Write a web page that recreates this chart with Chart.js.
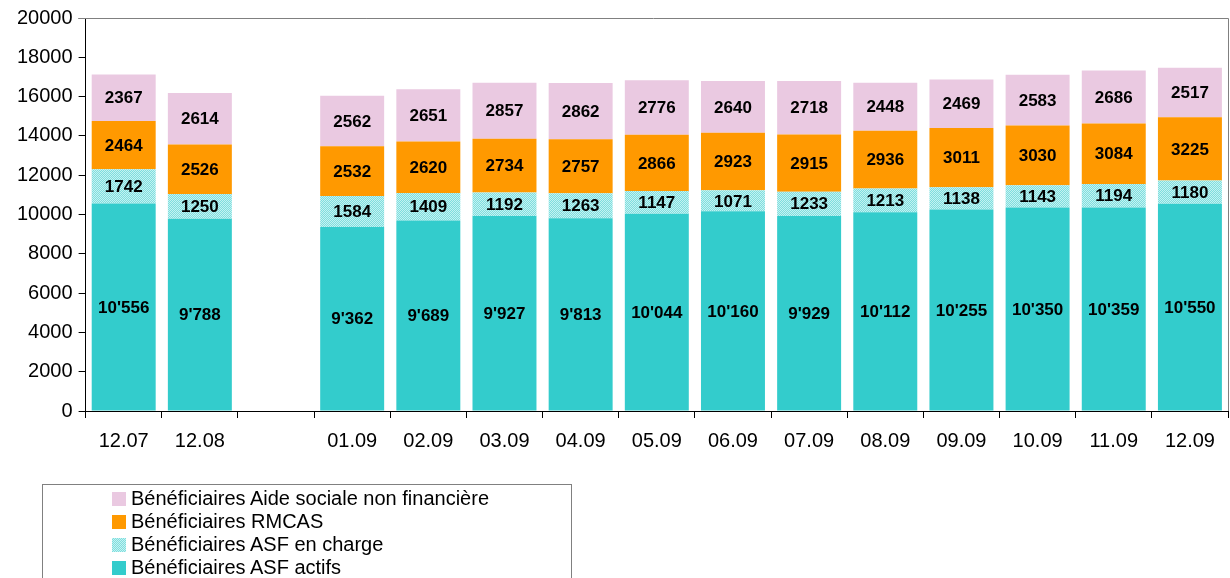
<!DOCTYPE html>
<html>
<head>
<meta charset="utf-8">
<script src="https://cdn.jsdelivr.net/npm/chart.js@4"></script>
<style>
  body { margin: 0; background: #fff; }
  #wrap { position: relative; width: 1230px; height: 578px; }
  #legend {
    position: absolute; left: 42px; top: 484px; width: 530px; height: 110px;
    border: 1px solid #808080; box-sizing: border-box;
    font-family: "Liberation Sans", Arial, sans-serif; font-size: 20px; color: #000;
    padding: 2px 0 0 69px;
  }
  #legend div { height: 23px; line-height: 23px; white-space: nowrap; }
  #legend canvas { display: inline-block; width: 14px; height: 14px; margin-right: 5px; vertical-align: -1px; }
</style>
</head>
<body>
<div id="wrap">
  <canvas id="myChart" width="1230" height="578"></canvas>
  <div id="legend"></div>
</div>
<script>
var labels, asfActifs, asfCharge, rmcas, aideSociale, yTicks, ctx, myChart, pattern, labelPlugin, framePlugin;

labels = ['12.07', '12.08', '', '01.09', '02.09', '03.09', '04.09', '05.09', '06.09', '07.09', '08.09', '09.09', '10.09', '11.09', '12.09'];
asfActifs = [10556, 9788, null, 9362, 9689, 9927, 9813, 10044, 10160, 9929, 10112, 10255, 10350, 10359, 10550];
asfCharge = [1742, 1250, null, 1584, 1409, 1192, 1263, 1147, 1071, 1233, 1213, 1138, 1143, 1194, 1180];
rmcas = [2464, 2526, null, 2532, 2620, 2734, 2757, 2866, 2923, 2915, 2936, 3011, 3030, 3084, 3225];
aideSociale = [2367, 2614, null, 2562, 2651, 2857, 2862, 2776, 2640, 2718, 2448, 2469, 2583, 2686, 2517];
yTicks = { min: 0, max: 20000, step: 2000 };

// checkered fill for "ASF en charge" (low contrast so it stays cyan)
pattern = (function() {
  var c = document.createElement('canvas'), p;
  c.width = 2; c.height = 2;
  p = c.getContext('2d');
  p.fillStyle = '#7fdede'; p.fillRect(0, 0, 2, 2);
  p.fillStyle = '#c4f2f2'; p.fillRect(0, 0, 1, 1); p.fillRect(1, 1, 1, 1);
  return p.createPattern(c, 'repeat');
})();

function fmtQuote(v) {
  return String(v).replace(/\B(?=(\d{3})+(?!\d))/g, "'");
}

labelPlugin = {
  id: 'segLabels',
  afterDatasetsDraw: function(chart) {
    var c = chart.ctx;
    c.save();
    c.font = 'bold 17px "Liberation Sans", Arial, sans-serif';
    c.fillStyle = '#000';
    c.textAlign = 'center';
    c.textBaseline = 'middle';
    chart.data.datasets.forEach(function(ds, i) {
      chart.getDatasetMeta(i).data.forEach(function(bar, j) {
        var v = ds.data[j];
        if (v == null) return;
        var txt = i === 0 ? fmtQuote(v) : String(v);
        c.fillText(txt, bar.x, (bar.y + bar.base) / 2 + 1);
      });
    });
    c.restore();
  }
};

framePlugin = {
  id: 'frame',
  afterDraw: function(chart) {
    var a = chart.chartArea, c = chart.ctx;
    c.save();
    c.strokeStyle = '#808080';
    c.lineWidth = 1;
    c.beginPath();
    c.moveTo(a.left - 7, a.top + 0.5);
    c.lineTo(a.right + 0.5, a.top + 0.5);
    c.lineTo(a.right + 0.5, a.bottom);
    c.stroke();
    c.restore();
  }
};

ctx = document.getElementById('myChart').getContext('2d');

myChart = new Chart(ctx, {
  type: 'bar',
  data: {
    labels: labels,
    datasets: [
      { label: 'Bénéficiaires ASF actifs', data: asfActifs, backgroundColor: '#33cccc' },
      { label: 'Bénéficiaires ASF en charge', data: asfCharge, backgroundColor: pattern },
      { label: 'Bénéficiaires RMCAS', data: rmcas, backgroundColor: '#ff9900' },
      { label: 'Bénéficiaires Aide sociale non financière', data: aideSociale, backgroundColor: '#eac9e1' }
    ]
  },
  options: {
    responsive: false,
    animation: false,
    layout: { padding: { left: 11, right: 2, top: 18, bottom: 114 } },
    plugins: { legend: { display: false }, tooltip: { enabled: false } },
    datasets: { bar: { barPercentage: 0.84, categoryPercentage: 1, borderWidth: 0 } },
    scales: {
      x: {
        stacked: true,
        border: { display: true, color: '#000' },
        grid: { drawOnChartArea: false, drawTicks: true, tickLength: 7, color: '#000', offset: true },
        ticks: { color: '#000', font: { family: '"Liberation Sans", Arial, sans-serif', size: 20 }, padding: 11, maxRotation: 0, autoSkip: false }
      },
      y: {
        stacked: true,
        min: yTicks.min,
        max: yTicks.max,
        border: { display: true, color: '#000' },
        grid: { drawOnChartArea: false, drawTicks: true, tickLength: 7, color: '#000' },
        ticks: {
          stepSize: yTicks.step, color: '#000', padding: 6,
          font: { family: '"Liberation Sans", Arial, sans-serif', size: 20 },
          callback: function(v) { return String(v); }
        }
      }
    }
  },
  plugins: [labelPlugin, framePlugin]
});

// legend, top row = last dataset
(function() {
  var el = document.getElementById('legend');
  myChart.data.datasets.slice().reverse().forEach(function(ds) {
    var row = document.createElement('div');
    var sw = document.createElement('canvas');
    sw.width = 14; sw.height = 14;
    var sc = sw.getContext('2d');
    sc.fillStyle = ds.backgroundColor;
    sc.fillRect(0, 0, 14, 14);
    row.appendChild(sw);
    row.appendChild(document.createTextNode(ds.label));
    el.appendChild(row);
  });
})();
</script>
</body>
</html>
